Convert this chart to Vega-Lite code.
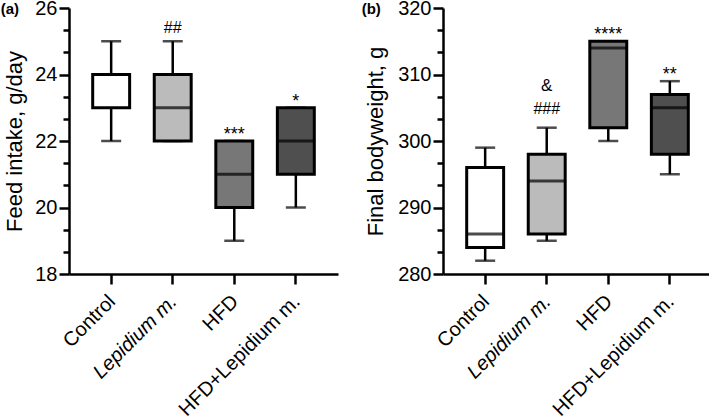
{
  "$schema": "https://vega.github.io/schema/vega-lite/v6.json",
  "padding": {"left": 0, "top": -2, "right": 0, "bottom": 0},
  "spacing": 23,
  "config": {
    "view": {"stroke": null},
    "font": "Liberation Sans",
    "axis": {
      "grid": false,
      "domainColor": "black",
      "domainWidth": 2.5,
      "tickColor": "black",
      "tickWidth": 2.5,
      "labelFont": "Liberation Sans",
      "labelFontSize": 20,
      "labelColor": "black",
      "labelOverlap": false,
      "titleFont": "Liberation Sans",
      "titleFontSize": 22,
      "titleFontWeight": "normal",
      "titleColor": "black"
    },
    "title": {"font": "Liberation Sans", "fontSize": 15, "fontWeight": "bold", "color": "black", "anchor": "start", "frame": "bounds", "offset": 0, "dy": 23, "dx": -3}
  },
  "datasets": {
    "feed": [
      {"group": "Control", "min": 22, "q1": 23, "median": 24, "q3": 24, "max": 25, "star": "", "hash": "", "amp": ""},
      {"group": "Lepidium m.", "min": 22, "q1": 22, "median": 23, "q3": 24, "max": 25, "star": "", "hash": "##", "amp": ""},
      {"group": "HFD", "min": 19, "q1": 20, "median": 21, "q3": 22, "max": 22, "star": "***", "hash": "", "amp": ""},
      {"group": "HFD+Lepidium m.", "min": 20, "q1": 21, "median": 22, "q3": 23, "max": 23, "star": "*", "hash": "", "amp": ""}
    ],
    "weight": [
      {"group": "Control", "min": 282, "q1": 284, "median": 286, "q3": 296, "max": 299, "star": "", "hash": "", "amp": ""},
      {"group": "Lepidium m.", "min": 285, "q1": 286, "median": 294, "q3": 298, "max": 302, "star": "", "hash": "###", "amp": "&"},
      {"group": "HFD", "min": 300, "q1": 302, "median": 314, "q3": 315, "max": 315, "star": "****", "hash": "", "amp": ""},
      {"group": "HFD+Lepidium m.", "min": 295, "q1": 298, "median": 305, "q3": 307, "max": 309, "star": "**", "hash": "", "amp": ""}
    ]
  },
  "hconcat": [
    {
      "width": 269,
      "height": 266,
      "title": {"text": "(a)"},
      "data": {"name": "feed"},
      "resolve": {"axis": {"y": "independent"}},
      "encoding": {
        "x": {
          "field": "group", "type": "nominal", "sort": null,
          "scale": {"paddingInner": 0.4, "paddingOuter": 0.385},
          "axis": {
            "title": null, "labelAngle": -45, "labelFontSize": 20, "tickSize": 10, "labelPadding": 7, "labelOffset": -6,
            "labelFontStyle": {"condition": {"test": "datum.value === 'Lepidium m.'", "value": "italic"}, "value": "normal"}
          }
        }
      },
      "layer": [
        {
          "mark": {"type": "rule", "color": "black", "strokeWidth": 2.5},
          "encoding": {
            "y": {
              "field": "min", "type": "quantitative",
              "scale": {"domain": [18, 26], "nice": false, "zero": false},
              "axis": {
                "orient": "left",
                "title": "Feed intake, g/day",
                "values": [18, 20, 22, 24, 26],
                "tickSize": 10,
                "labelPadding": 2,
                "labelOverlap": false,
                "titlePadding": 8
              }
            },
            "y2": {"field": "max"}
          }
        },
        {
          "mark": {"type": "tick", "color": "black", "thickness": 2.5, "size": 20},
          "encoding": {
            "y": {
              "field": "min", "type": "quantitative",
              "axis": {
                "orient": "left",
                "title": null,
                "values": [18.6667, 19.3333, 20.6667, 21.3333, 22.6667, 23.3333, 24.6667, 25.3333],
                "labels": false,
                "domain": false,
                "tickSize": 6
              }
            }
          }
        },
        {
          "mark": {"type": "tick", "color": "black", "thickness": 2.5, "size": 20},
          "encoding": {"y": {"field": "max", "type": "quantitative", "axis": null}}
        },
        {
          "mark": {"type": "bar", "stroke": "black", "strokeWidth": 3},
          "encoding": {
            "y": {"field": "q1", "type": "quantitative", "axis": null},
            "y2": {"field": "q3"},
            "color": {
              "field": "group", "type": "nominal",
              "scale": {"domain": ["Control", "Lepidium m.", "HFD", "HFD+Lepidium m."], "range": ["#ffffff", "#bbbbbb", "#777777", "#4f4f4f"]},
              "legend": null
            }
          }
        },
        {
          "mark": {"type": "tick", "color": "black", "thickness": 3, "size": 37},
          "encoding": {"y": {"field": "median", "type": "quantitative", "axis": null}}
        },
        {
          "transform": [{"filter": "datum.star !== ''"}],
          "mark": {"type": "text", "baseline": "alphabetic", "dy": -1, "fontSize": 18, "color": "black"},
          "encoding": {"y": {"field": "max", "type": "quantitative", "axis": null}, "text": {"field": "star"}}
        },
        {
          "transform": [{"filter": "datum.hash !== ''"}],
          "mark": {"type": "text", "baseline": "alphabetic", "dy": -8, "fontSize": 16, "color": "black"},
          "encoding": {"y": {"field": "max", "type": "quantitative", "axis": null}, "text": {"field": "hash"}}
        }
      ]
    },
    {
      "width": 269,
      "height": 266,
      "title": {"text": "(b)"},
      "data": {"name": "weight"},
      "resolve": {"axis": {"y": "independent"}},
      "encoding": {
        "x": {
          "field": "group", "type": "nominal", "sort": null,
          "scale": {"paddingInner": 0.4, "paddingOuter": 0.385},
          "axis": {
            "title": null, "labelAngle": -45, "labelFontSize": 20, "tickSize": 10, "labelPadding": 7, "labelOffset": -6,
            "labelFontStyle": {"condition": {"test": "datum.value === 'Lepidium m.'", "value": "italic"}, "value": "normal"}
          }
        }
      },
      "layer": [
        {
          "mark": {"type": "rule", "color": "black", "strokeWidth": 2.5},
          "encoding": {
            "y": {
              "field": "min", "type": "quantitative",
              "scale": {"domain": [280, 320], "nice": false, "zero": false},
              "axis": {
                "orient": "left",
                "title": "Final bodyweight, g",
                "values": [280, 290, 300, 310, 320],
                "tickSize": 10,
                "labelPadding": 2,
                "labelOverlap": false,
                "titlePadding": 10
              }
            },
            "y2": {"field": "max"}
          }
        },
        {
          "mark": {"type": "tick", "color": "black", "thickness": 2.5, "size": 20},
          "encoding": {
            "y": {
              "field": "min", "type": "quantitative",
              "axis": {
                "orient": "left",
                "title": null,
                "values": [283.3333, 286.6667, 293.3333, 296.6667, 303.3333, 306.6667, 313.3333, 316.6667],
                "labels": false,
                "domain": false,
                "tickSize": 6
              }
            }
          }
        },
        {
          "mark": {"type": "tick", "color": "black", "thickness": 2.5, "size": 20},
          "encoding": {"y": {"field": "max", "type": "quantitative", "axis": null}}
        },
        {
          "mark": {"type": "bar", "stroke": "black", "strokeWidth": 3},
          "encoding": {
            "y": {"field": "q1", "type": "quantitative", "axis": null},
            "y2": {"field": "q3"},
            "color": {
              "field": "group", "type": "nominal",
              "scale": {"domain": ["Control", "Lepidium m.", "HFD", "HFD+Lepidium m."], "range": ["#ffffff", "#bbbbbb", "#777777", "#4f4f4f"]},
              "legend": null
            }
          }
        },
        {
          "mark": {"type": "tick", "color": "black", "thickness": 3, "size": 37},
          "encoding": {"y": {"field": "median", "type": "quantitative", "axis": null}}
        },
        {
          "transform": [{"filter": "datum.star !== ''"}],
          "mark": {"type": "text", "baseline": "alphabetic", "dy": -1, "fontSize": 18, "color": "black"},
          "encoding": {"y": {"field": "max", "type": "quantitative", "axis": null}, "text": {"field": "star"}}
        },
        {
          "transform": [{"filter": "datum.hash !== ''"}],
          "mark": {"type": "text", "baseline": "alphabetic", "dy": -14, "fontSize": 16, "color": "black"},
          "encoding": {"y": {"field": "max", "type": "quantitative", "axis": null}, "text": {"field": "hash"}}
        },
        {
          "transform": [{"filter": "datum.amp !== ''"}],
          "mark": {"type": "text", "baseline": "alphabetic", "dy": -37, "fontSize": 17, "color": "black"},
          "encoding": {"y": {"field": "max", "type": "quantitative", "axis": null}, "text": {"field": "amp"}}
        }
      ]
    }
  ]
}
